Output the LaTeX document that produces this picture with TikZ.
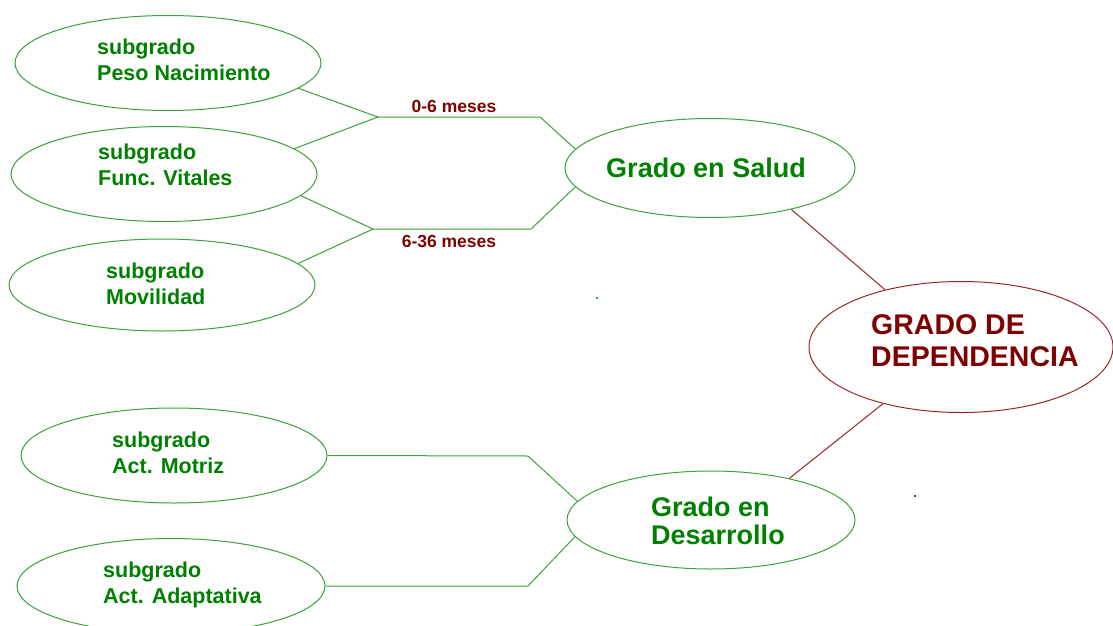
\documentclass[tikz,border=0pt]{standalone}
\usepackage{fontspec}
\setmainfont{Liberation Sans}
\usetikzlibrary{shapes.geometric}
\definecolor{tgreen}{RGB}{0,128,0}
\definecolor{lgreen}{RGB}{60,160,60}
\definecolor{dred}{RGB}{128,0,0}
\definecolor{lred}{RGB}{150,40,40}
\begin{document}
\begin{tikzpicture}[x=1pt,y=-1pt,
  ell/.style={ellipse, draw=lgreen, line width=1pt, inner sep=0pt},
  subell/.style={ell, minimum width=306pt, minimum height=95pt},
  bigell/.style={ell, minimum width=290pt, minimum height=99pt},
  subtxt/.style={font=\bfseries\fontsize{21.5}{26}\selectfont, text=tgreen, align=left, inner sep=0pt, anchor=west},
  gradotxt/.style={font=\bfseries\fontsize{27}{28}\selectfont, text=tgreen, align=left, inner sep=0pt},
  deptxt/.style={font=\bfseries\fontsize{28.5}{32}\selectfont, text=dred, align=left, inner sep=0pt, anchor=west},
  mestxt/.style={font=\bfseries\fontsize{17.5}{20}\selectfont, text=dred, inner sep=0pt},
  con/.style={draw=lgreen, line width=1pt},
  rcon/.style={draw=lred, line width=1pt}]
\useasboundingbox (0,0) rectangle (1113,626);
\clip (0,0) rectangle (1113,626);

% left ellipses
\node[subell] (peso) at (168,63) {};
\node[subtxt] (pesoT) at (97,60) {subgrado\\Peso Nacimiento};
\node[subell] (func) at (164,174) {};
\node[subtxt] (funcT) at (98,165) {subgrado\\Func. Vitales};
\node[subell, minimum height=92pt] (movil) at (162,285) {};
\node[subtxt] (movilT) at (106,283.5) {subgrado\\Movilidad};
\node[subell] (motriz) at (174,455.5) {};
\node[subtxt] (motrizT) at (112,452.5) {subgrado\\Act. Motriz};
\node[subell, minimum width=308pt] (adapt) at (171,586) {};
\node[subtxt] (adaptT) at (103,585) {subgrado\\Act. Adaptativa};

% middle ellipses
\node[bigell] (salud) at (710,168) {};
\node[gradotxt] (saludT) at (706,168) {Grado en Salud};
\node[bigell, minimum width=288pt, minimum height=98pt] (desa) at (711,520) {};
\node[gradotxt, anchor=west] (desaT) at (651,521) {Grado en\\Desarrollo};

% right ellipse
\node[ellipse, draw=lred, line width=1pt, inner sep=0pt, minimum width=304pt, minimum height=131pt] (dep) at (961,347) {};
\node[deptxt] (depT) at (871,341) {GRADO DE\\DEPENDENCIA};

% junctions
\coordinate (ja) at (378,117);
\coordinate (jb) at (540,117);
\coordinate (jc) at (373,229);
\coordinate (jd) at (531,229);
\coordinate (je) at (528,456);
\coordinate (jf) at (528,586);

% connectors
\draw[con] (peso.-11.5) -- (ja) -- (jb) -- (salud.172.4);
\draw[con] (func.11.6) -- (ja);
\draw[con] (func.-9.9) -- (jc) -- (jd) -- (salud.188);
\draw[con] (movil.9.7) -- (jc);
\draw[rcon] (salud.-27) -- (dep.143);
\draw[rcon] (dep.216.5) -- (desa.28);
\draw[con] (motriz.east) -- (je) -- (desa.172.5);
\draw[con] (adapt.east) -- (jf) -- (desa.187.5);

% labels
\node[mestxt] (m1) at (454,106) {0-6 meses};
\node[mestxt] (m2) at (449,241) {6-36 meses};

% stray dots
\fill[lgreen] (595.5,296.5) rectangle (597.5,298.5);
\fill[lred] (914,495) rectangle (916,497);
\end{tikzpicture}
\end{document}
